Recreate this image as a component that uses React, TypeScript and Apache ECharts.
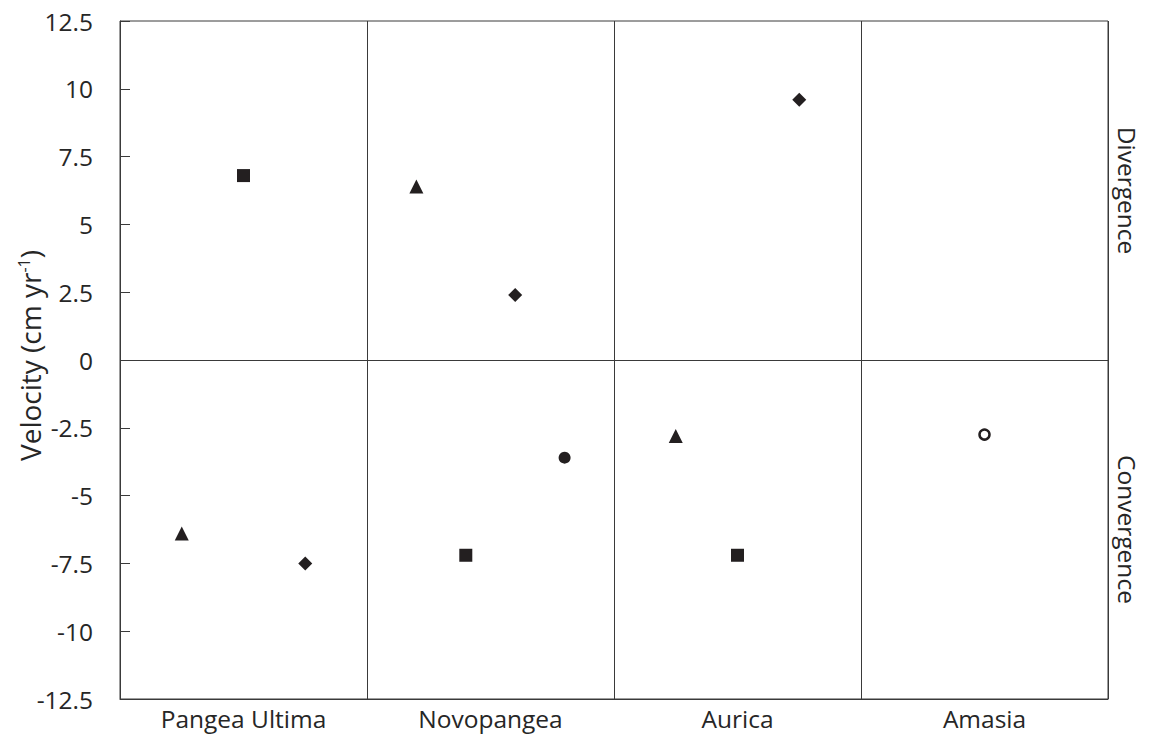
import { useEffect, useRef } from 'react';
import * as echarts from 'echarts';

// Supercontinent scenarios along the x axis
const categories = ['Pangea Ultima', 'Novopangea', 'Aurica', 'Amasia'];
// Regime labels on the right, bottom half first
const regimeLabels = ['Convergence', 'Divergence'];

// Velocity axis range (cm/yr)
const yMin = -12.5;
const yMax = 12.5;
const yStep = 2.5;

// Velocities per scenario, null where a marker is absent
const triangleValues = [-6.4, 6.4, -2.8, null];
const squareValues = [6.8, -7.2, -7.2, null];
const diamondValues = [-7.5, 2.4, 9.6, null];
const filledCircleValues = [null, -3.6, null, null];
const openCircleValues = [null, null, null, -2.75];

const INK = '#231f20';
const LINE = '#3a3a3a';
const TEXT = '#262626';
const FONT = '"Open Sans", "Liberation Sans", sans-serif';

type MarkerDef = {
  name: string;
  values: (number | null)[];
  symbol: string;
  size: number | number[];
  filled: boolean;
};

const markers: MarkerDef[] = [
  { name: 'triangle', values: triangleValues, symbol: 'triangle', size: 14, filled: true },
  { name: 'square', values: squareValues, symbol: 'rect', size: 13, filled: true },
  { name: 'diamond', values: diamondValues, symbol: 'diamond', size: 14, filled: true },
  { name: 'circle', values: filledCircleValues, symbol: 'circle', size: 12, filled: true },
  { name: 'open circle', values: openCircleValues, symbol: 'circle', size: 10, filled: false },
];

// Spread the markers present in each scenario evenly across its panel
function buildSeriesData(): Map<string, [number, number][]> {
  const out = new Map<string, [number, number][]>();
  markers.forEach((m) => out.set(m.name, []));
  categories.forEach((_, i) => {
    const present = markers.filter((m) => m.values[i] != null);
    present.forEach((m, slot) => {
      const x = i + (slot + 1) / (present.length + 1);
      out.get(m.name)!.push([x, m.values[i] as number]);
    });
  });
  return out;
}

export default function App() {
  const ref = useRef<HTMLDivElement>(null);

  useEffect(() => {
    if (!ref.current) return;
    const chart = echarts.init(ref.current, undefined, { renderer: 'svg' });
    const dataByMarker = buildSeriesData();

    const series: any[] = markers.map((m, idx) => ({
      name: m.name,
      type: 'scatter',
      xAxisIndex: 1,
      yAxisIndex: 0,
      data: dataByMarker.get(m.name),
      symbol: m.symbol,
      symbolSize: m.size,
      itemStyle: m.filled
        ? { color: INK, opacity: 1 }
        : { color: '#ffffff', borderColor: INK, borderWidth: 2.5, opacity: 1 },
      ...(idx === 0
        ? {
            markLine: {
              silent: true,
              symbol: ['none', 'none'],
              label: { show: false },
              lineStyle: { color: LINE, width: 1, type: 'solid' },
              data: [{ yAxis: 0 }],
            },
          }
        : {}),
    }));

    chart.setOption({
      animation: false,
      backgroundColor: '#ffffff',
      textStyle: { fontFamily: FONT },
      grid: {
        left: 120,
        right: 41,
        top: 21,
        bottom: 37,
        containLabel: false,
        outerBoundsMode: 'none',
        show: true,
        borderColor: LINE,
        borderWidth: 1,
        backgroundColor: 'transparent',
      },
      xAxis: [
        {
          type: 'category',
          data: categories,
          boundaryGap: true,
          position: 'bottom',
          axisLine: { show: true, onZero: false, lineStyle: { color: LINE, width: 1 } },
          axisTick: { show: false },
          axisLabel: { color: TEXT, fontSize: 24.5, fontFamily: FONT, margin: 7, interval: 0 },
          splitLine: { show: true, interval: 0, lineStyle: { color: LINE, width: 1 } },
        },
        {
          type: 'value',
          min: 0,
          max: categories.length,
          show: false,
          splitLine: { show: false },
        },
      ],
      yAxis: [
        {
          type: 'value',
          min: yMin,
          max: yMax,
          interval: yStep,
          position: 'left',
          name: 'Velocity (cm yr{sup|-1})',
          nameLocation: 'middle',
          nameMoveOverlap: false,
          nameGap: 76,
          nameTextStyle: {
            color: TEXT,
            fontSize: 28,
            fontFamily: FONT,
            padding: [0, 0, 0, 9],
            rich: {
              sup: { fontSize: 16, verticalAlign: 'top', color: TEXT, fontFamily: FONT, padding: [0, 0, 12, 0] },
            },
          },
          axisLine: { show: true, onZero: false, lineStyle: { color: LINE, width: 1 } },
          axisTick: { show: true, inside: true, length: 10, lineStyle: { color: LINE, width: 1 } },
          axisLabel: { color: TEXT, fontSize: 24.5, fontFamily: FONT, margin: 27 },
          splitLine: { show: false },
        },
        {
          type: 'category',
          data: regimeLabels,
          position: 'right',
          boundaryGap: true,
          axisLine: { show: false },
          axisTick: { show: false },
          splitLine: { show: false },
          axisLabel: { color: TEXT, fontSize: 24.5, fontFamily: FONT, rotate: -90, margin: 7, interval: 0 },
        },
      ],
      series,
    });

    return () => chart.dispose();
  }, []);

  return (
    <div
      ref={ref}
      style={{ position: 'fixed', left: 0, top: 0, width: '1149px', height: '736px', background: '#fff' }}
    />
  );
}
